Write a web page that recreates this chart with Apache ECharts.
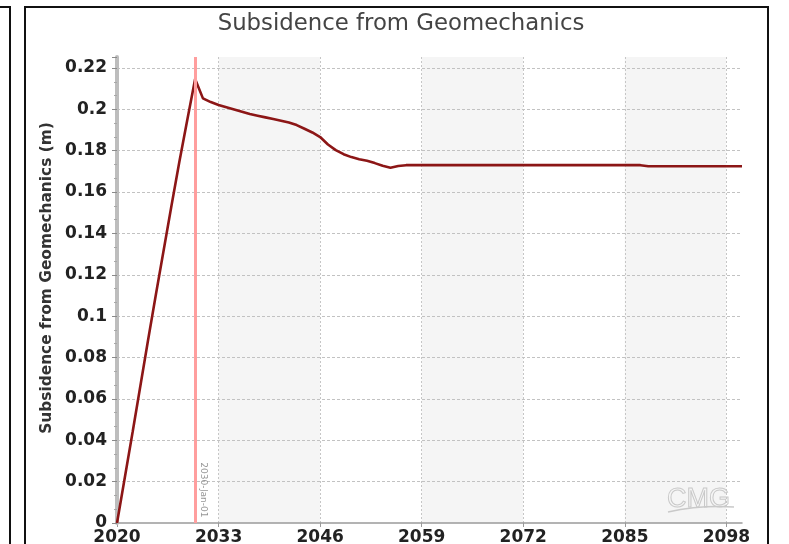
<!DOCTYPE html>
<html>
<head>
<meta charset="utf-8">
<title>Subsidence from Geomechanics</title>
<script src="https://cdn.jsdelivr.net/npm/echarts@6/dist/echarts.min.js"></script>
<style>
  html, body { margin: 0; padding: 0; background: #ffffff; }
  #chart { width: 789px; height: 544px; }
</style>
</head>
<body>
<div id="chart"></div>
<script>
// Simulation start year; the x axis counts years from here.
const startYear = 2020;

// Yearly output times.
const years = [
  2020, 2021, 2022, 2023, 2024, 2025, 2026, 2027, 2028, 2029,
  2030, 2031, 2032, 2033, 2034, 2035, 2036, 2037, 2038, 2039,
  2040, 2041, 2042, 2043, 2044, 2045, 2046, 2047, 2048, 2049,
  2050, 2051, 2052, 2053, 2054, 2055, 2056, 2057, 2058, 2059,
  2060, 2061, 2062, 2063, 2064, 2065, 2066, 2067, 2068, 2069,
  2070, 2071, 2072, 2073, 2074, 2075, 2076, 2077, 2078, 2079,
  2080, 2081, 2082, 2083, 2084, 2085, 2086, 2087, 2088, 2089,
  2090, 2091, 2092, 2093, 2094, 2095, 2096, 2097, 2098, 2099,
  2100
];

// Subsidence from geomechanics (m) at each output time.
const subsidence = [
  0.0000, 0.0220, 0.0440, 0.0665, 0.0890, 0.1110, 0.1325, 0.1540, 0.1750, 0.1950,
  0.2147, 0.2053, 0.2035, 0.2021, 0.2010, 0.1999, 0.1988, 0.1977, 0.1969, 0.1961,
  0.1953, 0.1945, 0.1936, 0.1924, 0.1906, 0.1888, 0.1866, 0.1830, 0.1803, 0.1783,
  0.1769, 0.1759, 0.1751, 0.1740, 0.1727, 0.1718, 0.1726, 0.1730, 0.1730, 0.1730,
  0.1730, 0.1730, 0.1730, 0.1730, 0.1730, 0.1730, 0.1730, 0.1730, 0.1730, 0.1730,
  0.1730, 0.1730, 0.1730, 0.1730, 0.1730, 0.1730, 0.1730, 0.1730, 0.1730, 0.1730,
  0.1730, 0.1730, 0.1730, 0.1730, 0.1730, 0.1730, 0.1730, 0.1730, 0.1725, 0.1725,
  0.1725, 0.1725, 0.1725, 0.1725, 0.1725, 0.1725, 0.1725, 0.1725, 0.1725, 0.1725,
  0.1725
];

// Marker for the end of injection.
const markerYear = 2030;
const markerText = '2030-Jan-01';

// Axis steps.
const xTickStep = 13;      // years between labelled ticks
const yTickStep = 0.02;    // metres between labelled ticks
const yAxisTop = 0.2253;

const FONT = 'DejaVu Sans';
const points = years.map((y, i) => [y - startYear, subsidence[i]]);

const chart = echarts.init(document.getElementById('chart'), null, { renderer: 'canvas' });

chart.setOption({
  animation: false,
  backgroundColor: '#ffffff',
  title: {
    text: 'Subsidence from Geomechanics',
    left: 396,
    top: 8,
    textAlign: 'center',
    textStyle: { fontFamily: FONT, fontSize: 22.8, fontWeight: 'normal', color: '#444444' }
  },
  grid: {
    left: 117, right: 47, top: 57, bottom: 21,
    containLabel: false,
    outerBoundsMode: 'none'
  },
  xAxis: {
    type: 'value',
    z: 0,
    min: 0,
    max: years[years.length - 1] - startYear,
    interval: xTickStep,
    axisLine: { show: true, onZero: false, lineStyle: { color: '#9a9a9a', width: 1.5 } },
    axisTick: { show: true, length: 4, lineStyle: { color: '#9a9a9a' } },
    axisLabel: {
      margin: 6,
      showMaxLabel: false,
      formatter: v => String(v + startYear),
      fontFamily: FONT, fontSize: 17, fontWeight: 'bold', color: '#222222'
    },
    splitLine: {
      show: true, showMinLine: false, showMaxLine: false,
      lineStyle: { color: '#c6c6c6', width: 1, type: [2, 2] }
    },
    splitArea: { show: true, areaStyle: { color: ['#ffffff', '#f5f5f5'] } }
  },
  yAxis: {
    type: 'value',
    z: 1,
    min: 0,
    max: yAxisTop,
    interval: yTickStep,
    name: 'Subsidence from Geomechanics (m)',
    nameLocation: 'middle',
    nameGap: 62,
    nameTextStyle: {
      fontFamily: FONT, fontSize: 15.4, fontWeight: 'bold', color: '#333333',
      padding: [0, 0, 0, 24]
    },
    axisLine: { show: true, onZero: false, lineStyle: { color: '#bdbdbd', width: 4 } },
    axisTick: { show: true, length: 5, lineStyle: { color: '#8a8a8a' } },
    minorTick: { show: true, splitNumber: 3, length: 3, lineStyle: { color: '#a8a8a8' } },
    axisLabel: {
      margin: 10,
      showMaxLabel: false,
      fontFamily: FONT, fontSize: 17, fontWeight: 'bold', color: '#222222'
    },
    splitLine: {
      show: true, showMinLine: false, showMaxLine: false,
      lineStyle: { color: '#c2c2c2', width: 1, type: [3, 2] }
    }
  },
  series: [
    {
      type: 'scatter',
      silent: true,
      z: 2,
      symbolSize: 0,
      data: [[markerYear - startYear, 0.016]],
      label: {
        show: true,
        formatter: markerText,
        position: 'right',
        distance: 8,
        rotate: -90,
        align: 'center',
        verticalAlign: 'middle',
        fontFamily: FONT, fontSize: 9, color: '#7a7a7a'
      },
      markLine: {
        silent: true,
        symbol: 'none',
        label: { show: false },
        lineStyle: { color: '#ff9e9e', width: 3, type: 'solid' },
        data: [{ xAxis: markerYear - startYear }]
      }
    },
    {
      type: 'line',
      silent: true,
      z: 3,
      data: points,
      showSymbol: false,
      symbol: 'none',
      lineStyle: { color: '#8c1616', width: 2.6 }
    }
  ],
  graphic: [
    {
      type: 'rect', silent: true, z: 100,
      shape: { x: 25, y: 7, width: 743, height: 560 },
      style: { fill: 'none', stroke: '#111111', lineWidth: 2 }
    },
    {
      type: 'polyline', silent: true, z: 100,
      shape: { points: [[0, 7], [10, 7], [10, 560]] },
      style: { fill: 'none', stroke: '#111111', lineWidth: 2 }
    },
    {
      type: 'text', silent: true, z: 50,
      x: 667, y: 486,
      style: {
        text: 'CMG',
        fontFamily: 'Liberation Sans', fontSize: 27,
        fill: 'rgba(0,0,0,0)', stroke: '#c9c9c9', lineWidth: 1
      }
    },
    {
      type: 'bezierCurve', silent: true, z: 50,
      shape: { x1: 668, y1: 512, cpx1: 700, cpy1: 505, x2: 734, y2: 507 },
      style: { fill: 'none', stroke: '#c9c9c9', lineWidth: 1.5 }
    }
  ]
});
</script>
</body>
</html>
